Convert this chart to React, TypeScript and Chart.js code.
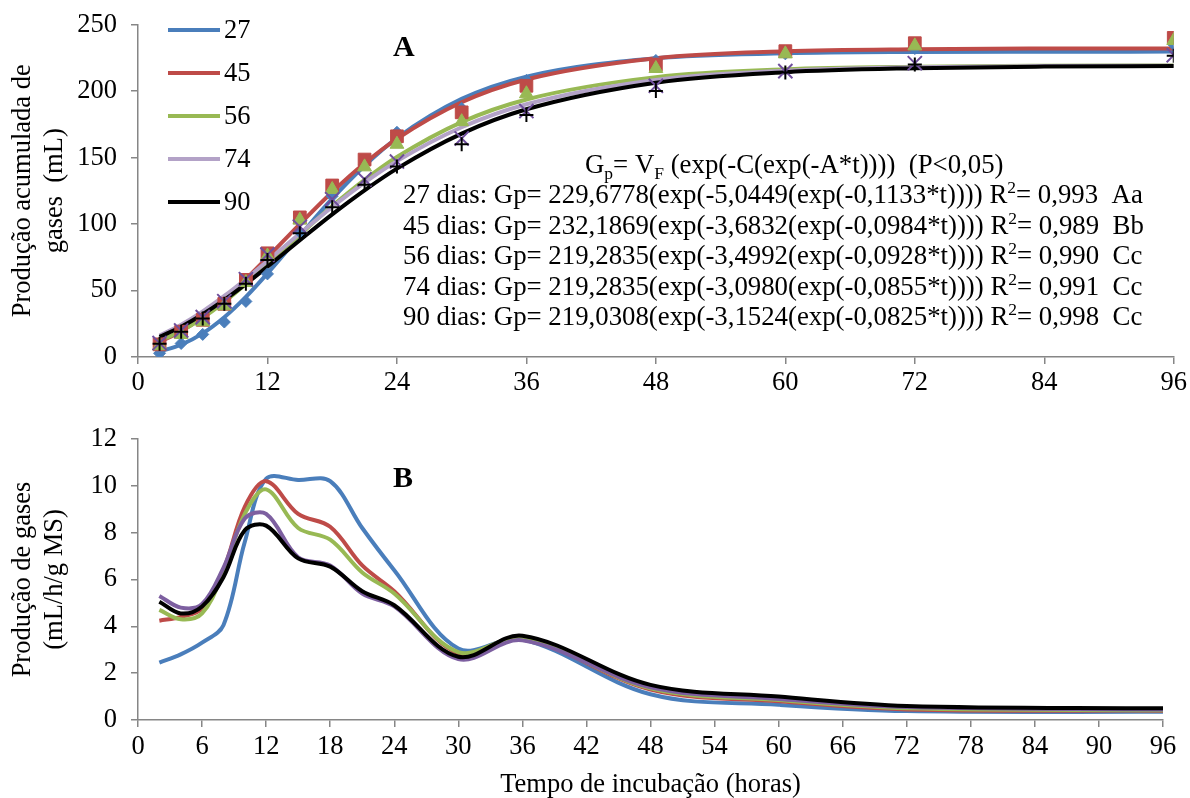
import React, { useEffect, useRef } from 'react';
import { Chart, registerables } from 'chart.js';
Chart.register(...registerables);

const FONT = "'Liberation Serif', 'Times New Roman', serif";

// ---------- data ----------
const seriesNames = ['27', '45', '56', '74', '90'];
const fitColors = ['#4A7EBB', '#BE4B48', '#98B954', '#B3A2C7', '#000000'];
const rateColors = ['#4A7EBB', '#BE4B48', '#98B954', '#7D5FA0', '#000000'];
const markerColors = ['#4A7EBB', '#BE4B48', '#98B954', '#6F4E9C', '#000000'];
const markerStyles = ['rectRot', 'rect', 'triangle', 'crossRot', 'cross'];
const markerRadius = [6, 9, 8, 10, 7];

// observed cumulative gas (mL) – panel A markers
const obsTimes = [2, 4, 6, 8, 10, 12, 15, 18, 21, 24, 30, 36, 48, 60, 72, 96];
const obs27 = [2.8, 10.2, 17, 26.3, 41.8, 62.5, 94, 121, 145, 169, 187, 208, 223, 228, 232, 235];
const obs45 = [9.5, 19, 28, 40, 58, 78, 105, 129, 148.5, 166, 184, 204, 220, 230, 236, 240];
const obs56 = [8.5, 17, 26.5, 38.5, 56, 76, 103, 126, 143, 160, 177, 198, 217, 228, 234, 238];
const obs74 = [10.5, 20, 30, 42, 58.5, 77, 98, 118.7, 133.6, 147, 164.4, 185, 204, 215, 221, 227];
const obs90 = [10, 19, 29, 40, 55, 73, 93, 112.7, 129.6, 143.3, 160, 182, 200, 214, 220, 226.5];

// fitted curves (mL) – panel A lines
const fitTimes = [2, 4, 6, 8, 10, 12, 15, 18, 21, 24, 30, 36, 48, 60, 72, 84, 96];
const fit27 = [4.1, 9.3, 17.8, 29.9, 45.2, 62.9, 91.3, 119.1, 143.9, 164.7, 194.1, 210.9, 224.7, 228.4, 229.4, 229.6, 229.7];
const fit45 = [11.3, 19.4, 30.2, 43.4, 58.6, 74.9, 100.0, 124.1, 145.7, 164.1, 191.6, 208.7, 224.7, 229.9, 231.5, 232.0, 232.1];
const fit56 = [12.0, 19.6, 29.5, 41.5, 55.0, 69.5, 91.9, 113.5, 133.2, 150.4, 176.7, 193.7, 210.5, 216.4, 218.3, 219.0, 219.2];
const fit74 = [16.1, 24.3, 34.3, 45.9, 58.7, 72.2, 92.9, 112.8, 131.1, 147.3, 172.8, 190.1, 208.4, 215.3, 217.9, 218.8, 219.1];
const fit90 = [15.1, 22.7, 32.1, 42.9, 55.0, 67.9, 87.8, 107.3, 125.4, 141.7, 168.0, 186.3, 206.3, 214.2, 217.2, 218.4, 218.8];

// gas production rate (mL/h/g MS) – panel B
const rateTimes = [2, 4, 6, 8, 10, 12, 15, 18, 21, 24, 30, 36, 48, 60, 72, 96];
const rate27 = [2.45, 2.8, 3.3, 4.05, 7.6, 10.3, 10.25, 10.2, 8.2, 6.4, 3.05, 3.45, 1.1, 0.65, 0.38, 0.35];
const rate45 = [4.24, 4.4, 4.75, 6.4, 9.1, 10.2, 8.8, 8.25, 6.6, 5.5, 2.85, 3.5, 1.3, 0.8, 0.45, 0.4];
const rate56 = [4.7, 4.3, 4.55, 6.3, 8.8, 9.85, 8.2, 7.7, 6.3, 5.4, 2.9, 3.5, 1.35, 0.85, 0.5, 0.42];
const rate74 = [5.3, 4.8, 4.95, 6.5, 8.6, 8.8, 6.95, 6.6, 5.4, 4.85, 2.6, 3.4, 1.4, 0.9, 0.55, 0.45];
const rate90 = [5.05, 4.55, 4.85, 6.1, 8.1, 8.3, 6.9, 6.55, 5.5, 4.9, 2.7, 3.6, 1.5, 1.0, 0.6, 0.5];

// equation table
const eqDays = ['27', '45', '56', '74', '90'];
const eqVF = ['229,6778', '232,1869', '219,2835', '219,2835', '219,0308'];
const eqC = ['5,0449', '3,6832', '3,4992', '3,0980', '3,1524'];
const eqA = ['0,1133', '0,0984', '0,0928', '0,0855', '0,0825'];
const eqR2 = ['0,993', '0,989', '0,990', '0,991', '0,998'];
const eqLetters = ['Aa', 'Bb', 'Cc', 'Cc', 'Cc'];

const xTicksA = [0, 12, 24, 36, 48, 60, 72, 84, 96];
const yTicksA = [0, 50, 100, 150, 200, 250];
const xTicksB = [0, 6, 12, 18, 24, 30, 36, 42, 48, 54, 60, 66, 72, 78, 84, 90, 96];
const yTicksB = [0, 2, 4, 6, 8, 10, 12];

const obsAll = [obs27, obs45, obs56, obs74, obs90];
const fitAll = [fit27, fit45, fit56, fit74, fit90];
const rateAll = [rate27, rate45, rate56, rate74, rate90];

const toXY = (xs: number[], ys: number[]) => xs.map((x, i) => ({ x, y: ys[i] }));

const FS = 26.5;
const EQFS = 26.8;

type Part = { t: string; s?: 'sub' | 'sup' };
function drawRich(ctx: CanvasRenderingContext2D, x: number, y: number, parts: Part[]) {
  let cx = x;
  for (const p of parts) {
    const size = p.s ? 17.5 : EQFS;
    ctx.font = `${size}px ${FONT}`;
    const dy = p.s === 'sub' ? 6 : p.s === 'sup' ? -10 : 0;
    ctx.fillText(p.t, cx, y + dy);
    cx += ctx.measureText(p.t).width;
  }
}

const AXIS = '#868686';

function axisOpts(min: number, max: number, ticks: number[], pad: number, lh: number) {
  return {
    type: 'linear' as const,
    min,
    max,
    afterBuildTicks: (scale: any) => {
      scale.ticks = ticks.map((v) => ({ value: v }));
    },
    border: { color: AXIS, width: 1.5 },
    grid: { display: true, drawOnChartArea: false, drawTicks: true, tickLength: 7, color: AXIS, lineWidth: 1.5 },
    ticks: { color: '#000', font: { family: FONT, size: FS, lineHeight: lh }, padding: pad, autoSkip: false, maxRotation: 0 },
  };
}

const topTextPlugin = {
  id: 'topText',
  afterDraw(chart: any) {
    const ctx: CanvasRenderingContext2D = chart.ctx;
    ctx.save();
    // legend
    ctx.textBaseline = 'middle';
    ctx.textAlign = 'left';
    seriesNames.forEach((n, i) => {
      const y = 30 + i * 43;
      ctx.strokeStyle = fitColors[i];
      ctx.lineWidth = 4;
      ctx.beginPath();
      ctx.moveTo(168, y);
      ctx.lineTo(220, y);
      ctx.stroke();
      ctx.fillStyle = '#000';
      ctx.font = `${FS}px ${FONT}`;
      ctx.fillText(n, 224, y + 1);
    });
    // panel letter
    ctx.font = `bold 30px ${FONT}`;
    ctx.fillText('A', 393, 48);
    // equations
    ctx.textBaseline = 'alphabetic';
    ctx.fillStyle = '#000';
    drawRich(ctx, 585, 173, [
      { t: 'G' }, { t: 'p', s: 'sub' }, { t: '= V' }, { t: 'F', s: 'sub' },
      { t: ' (exp(-C(exp(-A*t))))  (P<0,05)' },
    ]);
    eqDays.forEach((d, i) => {
      drawRich(ctx, 403, 203 + i * 30.5, [
        { t: `${d} dias: Gp= ${eqVF[i]}(exp(-${eqC[i]}(exp(-${eqA[i]}*t)))) R` },
        { t: '2', s: 'sup' },
        { t: `= ${eqR2[i]}  ${eqLetters[i]}` },
      ]);
    });
    ctx.restore();
  },
};

const bottomTextPlugin = {
  id: 'bottomText',
  afterDraw(chart: any) {
    const ctx: CanvasRenderingContext2D = chart.ctx;
    ctx.save();
    ctx.fillStyle = '#000';
    ctx.textBaseline = 'middle';
    ctx.font = `bold 30px ${FONT}`;
    ctx.fillText('B', 393, 79);
    ctx.restore();
  },
};

export default function App() {
  const topRef = useRef<HTMLCanvasElement>(null);
  const botRef = useRef<HTMLCanvasElement>(null);

  useEffect(() => {
    const fitSets = seriesNames.map((n, i) => ({
      label: n,
      data: toXY(fitTimes, fitAll[i]),
      borderColor: fitColors[i],
      backgroundColor: fitColors[i],
      borderWidth: 4,
      pointRadius: 0,
      showLine: true,
      cubicInterpolationMode: 'monotone' as const,
      order: 20 - i,
    }));
    const obsSets = seriesNames.map((n, i) => ({
      label: n + ' obs',
      data: toXY(obsTimes, obsAll[i]),
      showLine: false,
      pointStyle: markerStyles[i],
      pointRadius: markerRadius[i],
      pointBorderWidth: i >= 3 ? 2 : 1,
      borderColor: markerColors[i],
      backgroundColor: markerColors[i],
      pointBackgroundColor: markerColors[i],
      pointBorderColor: markerColors[i],
      order: 10 - i,
    }));

    const xA: any = axisOpts(0, 96, xTicksA, 3, 1.2);
    xA.afterFit = (s: any) => { s.height = 43; };
    const yA: any = axisOpts(0, 250, yTicksA, 14, 0.8);
    yA.afterFit = (s: any) => { s.width = 138; };
    yA.title = {
      display: true,
      text: ['Produção acumulada de', 'gases  (mL)'],
      color: '#000',
      font: { family: FONT, size: FS, lineHeight: 1.21 },
      padding: { top: 7, bottom: 0 },
    };

    const top = new Chart(topRef.current!, {
      type: 'scatter',
      data: { datasets: [...fitSets, ...obsSets] as any },
      options: {
        animation: false,
        responsive: false,
        events: [],
        layout: { padding: { left: 0, right: 15, top: 22, bottom: 0 } },
        plugins: { legend: { display: false }, tooltip: { enabled: false } },
        scales: { x: xA, y: yA },
      },
      plugins: [topTextPlugin],
    });

    const rateSets = seriesNames.map((n, i) => ({
      label: n,
      data: toXY(rateTimes, rateAll[i]),
      borderColor: rateColors[i],
      backgroundColor: rateColors[i],
      borderWidth: 4,
      pointRadius: 0,
      showLine: true,
      tension: 0.35,
      order: 10 - i,
    }));

    const xB: any = axisOpts(0, 96, xTicksB, 4, 1.2);
    xB.afterFit = (s: any) => { s.height = 78; };
    xB.title = {
      display: true,
      text: 'Tempo de incubação (horas)',
      color: '#000',
      font: { family: FONT, size: FS, lineHeight: 1.0 },
      padding: { top: 0, bottom: 0 },
    };
    const yB: any = axisOpts(0, 12, yTicksB, 14, 0.8);
    yB.afterFit = (s: any) => { s.width = 138; };
    yB.title = {
      display: true,
      text: ['Produção de gases', '(mL/h/g MS)'],
      color: '#000',
      font: { family: FONT, size: FS, lineHeight: 1.21 },
      padding: { top: 7, bottom: 0 },
    };

    const bot = new Chart(botRef.current!, {
      type: 'scatter',
      data: { datasets: rateSets as any },
      options: {
        animation: false,
        responsive: false,
        events: [],
        layout: { padding: { left: 0, right: 27, top: 39, bottom: 0 } },
        plugins: { legend: { display: false }, tooltip: { enabled: false } },
        scales: { x: xB, y: yB },
      },
      plugins: [bottomTextPlugin],
    });

    return () => {
      top.destroy();
      bot.destroy();
    };
  }, []);

  return (
    <div style={{ position: 'absolute', left: 0, top: 0, width: 1190, height: 798, background: '#fff' }}>
      <canvas ref={topRef} width={1190} height={400} style={{ display: 'block', width: 1190, height: 400 }} />
      <canvas ref={botRef} width={1190} height={398} style={{ display: 'block', width: 1190, height: 398 }} />
    </div>
  );
}
